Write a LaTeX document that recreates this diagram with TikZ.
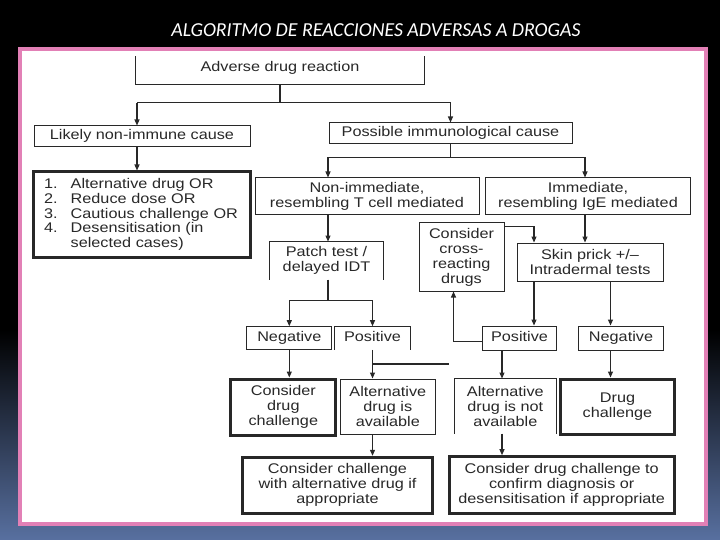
\documentclass[tikz,border=0pt]{standalone}
\usepackage{fontspec}
\setmainfont{Liberation Sans}[FakeStretch=1.16]
\newfontfamily\titlefont{Carlito}
\usetikzlibrary{arrows.meta}
\definecolor{framepink}{RGB}{226,128,182}
\definecolor{ink}{RGB}{40,40,40}
\definecolor{slide}{RGB}{88,112,160}
\begin{document}
\begin{tikzpicture}[x=1pt,y=-1pt,
    box/.style={draw=ink,line width=1pt,inner sep=0pt,align=center,text=ink,font=\fontsize{14}{15}\selectfont},
    oneline/.style={text height=10pt,text depth=3pt},
    thickbox/.style={box,line width=3pt},
    openbox/.style={box,draw=none},
    edge/.style={draw=ink,line width=1.1pt},
    arr/.style={edge,-{Triangle[length=6pt,width=5pt]}}]
  \fill[black] (0,0) rectangle (720,540);
  \shade[top color=black,bottom color=slide] (0,330) rectangle (720,540);
  \draw[framepink,line width=4.5pt,fill=white] (20,49) rectangle (706,524);
  \node[text=white,font=\titlefont\itshape\fontsize{19.8}{21}\selectfont] (title) at (376,30) {ALGORITMO DE REACCIONES ADVERSAS A DROGAS};
  \node[openbox,oneline,minimum width=288pt,minimum height=32pt] (adr) at (280,68) {Adverse drug reaction};
  \node[box,oneline,minimum width=216pt,minimum height=21pt] (likely) at (142,136.5) {Likely non-immune cause};
  \node[box,oneline,minimum width=243pt,minimum height=21pt] (possible) at (450.5,133.5) {Possible immunological cause};
  \node[thickbox,minimum height=85pt,text width=195pt,inner xsep=11pt,align=left,font=\fontsize{14}{14.8}\selectfont] (list) at (141.5,214.5)
    {\makebox[26.7pt][l]{1.}Alternative drug OR\\
     \makebox[26.7pt][l]{2.}Reduce dose OR\\
     \makebox[26.7pt][l]{3.}Cautious challenge OR\\
     \makebox[26.7pt][l]{4.}Desensitisation (in\\
     \hspace*{26.7pt}selected cases)};
  \node[box,minimum width=224pt,minimum height=37pt] (nonimm) at (367,196.5) {Non-immediate,\\resembling T cell mediated};
  \node[box,minimum width=205pt,minimum height=37pt] (imm) at (588,196.5) {Immediate,\\resembling IgE mediated};
  \node[openbox,minimum width=113pt,minimum height=37pt] (patch) at (326.5,260.5) {Patch test /\\delayed IDT};
  \node[box,minimum width=85pt,minimum height=68pt] (cross) at (461.5,257) {Consider\\cross-\\reacting\\drugs};
  \node[box,minimum width=146pt,minimum height=38pt] (skin) at (590,262) {Skin prick +/--\\Intradermal tests};
  \node[box,oneline,minimum width=85pt,minimum height=22.6pt] (neg1) at (289.3,338) {Negative};
  \node[openbox,oneline,minimum width=75pt,minimum height=22.6pt] (pos1) at (372.5,338) {Positive};
  \node[box,oneline,minimum width=74.4pt,minimum height=24pt] (pos2) at (519.5,338) {Positive};
  \node[box,oneline,minimum width=84.3pt,minimum height=24pt] (neg2) at (621,338) {Negative};
  \node[thickbox,minimum width=105pt,minimum height=56pt] (consider) at (283.3,407) {Consider\\drug\\challenge};
  \node[box,minimum width=95pt,minimum height=55pt] (altyes) at (387.8,406.5) {Alternative\\drug is\\available};
  \node[openbox,minimum width=100.7pt,minimum height=54pt] (altno) at (505.3,406) {Alternative\\drug is not\\available};
  \node[thickbox,minimum width=113.6pt,minimum height=55pt] (challenge) at (617.5,406.5) {Drug\\challenge};
  \node[thickbox,minimum width=189.6pt,minimum height=56pt] (withalt) at (337.5,485.3) {Consider challenge\\with alternative drug if\\appropriate};
  \node[thickbox,minimum width=225.3pt,minimum height=56.6pt] (confirm) at (561.7,485) {Consider drug challenge to\\confirm diagnosis or\\desensitisation if appropriate};
  \coordinate (s1) at (280,102.7);
  \coordinate (s2) at (450.5,157.3);
  \coordinate (s3) at (328,300.7);
  \coordinate (stub) at (449,364);
  \coordinate (colA) at (137,0);
  \coordinate (colP) at (328,0);
  \coordinate (colX) at (453.5,0);
  \coordinate (colI) at (585,0);
  \coordinate (colS) at (534,0);
  \coordinate (colN) at (610.5,0);
  \coordinate (colT) at (502,0);
  \begin{scope}[edge]
    \draw ([yshift=-5pt]adr.north west) -- (adr.south west) -- (adr.south east) -- ([yshift=-5pt]adr.north east);
    \draw (patch.south west) -- (patch.north west) -- (patch.north east) -- (patch.south east);
    \draw (pos1.south west) -- (pos1.north west) -- (pos1.north east) -- (pos1.south east);
    \draw (altno.south west) -- (altno.north west) -- (altno.north east) -- (altno.south east);
    \draw (adr.south) -- (s1);
    \draw (colA |- s1) -- (s1 -| possible.north);
    \draw[arr] (colA |- s1) -- (colA |- likely.north);
    \draw[arr] (s1 -| possible.north) -- (possible.north);
    \draw[arr] (colA |- likely.south) -- (colA |- list.north);
    \draw (possible.south) -- (s2);
    \draw (colP |- s2) -- (colI |- s2);
    \draw[arr] (colP |- s2) -- (colP |- nonimm.north);
    \draw[arr] (colI |- s2) -- (colI |- imm.north);
    \draw[arr] (colP |- nonimm.south) -- (colP |- patch.north);
    \draw[arr] (colI |- imm.south) -- (colI |- skin.north);
    \draw[arr] ([yshift=-4pt]cross.north east) -| (colS |- skin.north);
    \draw (colP |- patch.south) -- (s3);
    \draw (s3 -| neg1.north) -- (s3 -| pos1.north);
    \draw[arr] (s3 -| neg1.north) -- (neg1.north);
    \draw[arr] (s3 -| pos1.north) -- (pos1.north);
    \draw[arr] (colS |- skin.south) -- (colS |- pos2.north);
    \draw[arr] (colN |- skin.south) -- (colN |- neg2.north);
    \draw[arr] ([yshift=-3.7pt]pos2.west) -| (colX |- cross.south);
    \draw[arr] (neg1.south) -- (neg1.south |- consider.north);
    \draw[arr] (pos1.south) -- (pos1.south |- altyes.north);
    \draw (pos1.south |- stub) -- (stub);
    \draw[arr] (colT |- pos2.south) -- (colT |- altno.north);
    \draw[arr] (colN |- neg2.south) -- (colN |- challenge.north);
    \draw[arr] (pos1.south |- altyes.south) -- (pos1.south |- withalt.north);
    \draw[arr] (colT |- altno.south) -- (colT |- confirm.north);
  \end{scope}
\end{tikzpicture}
\end{document}
